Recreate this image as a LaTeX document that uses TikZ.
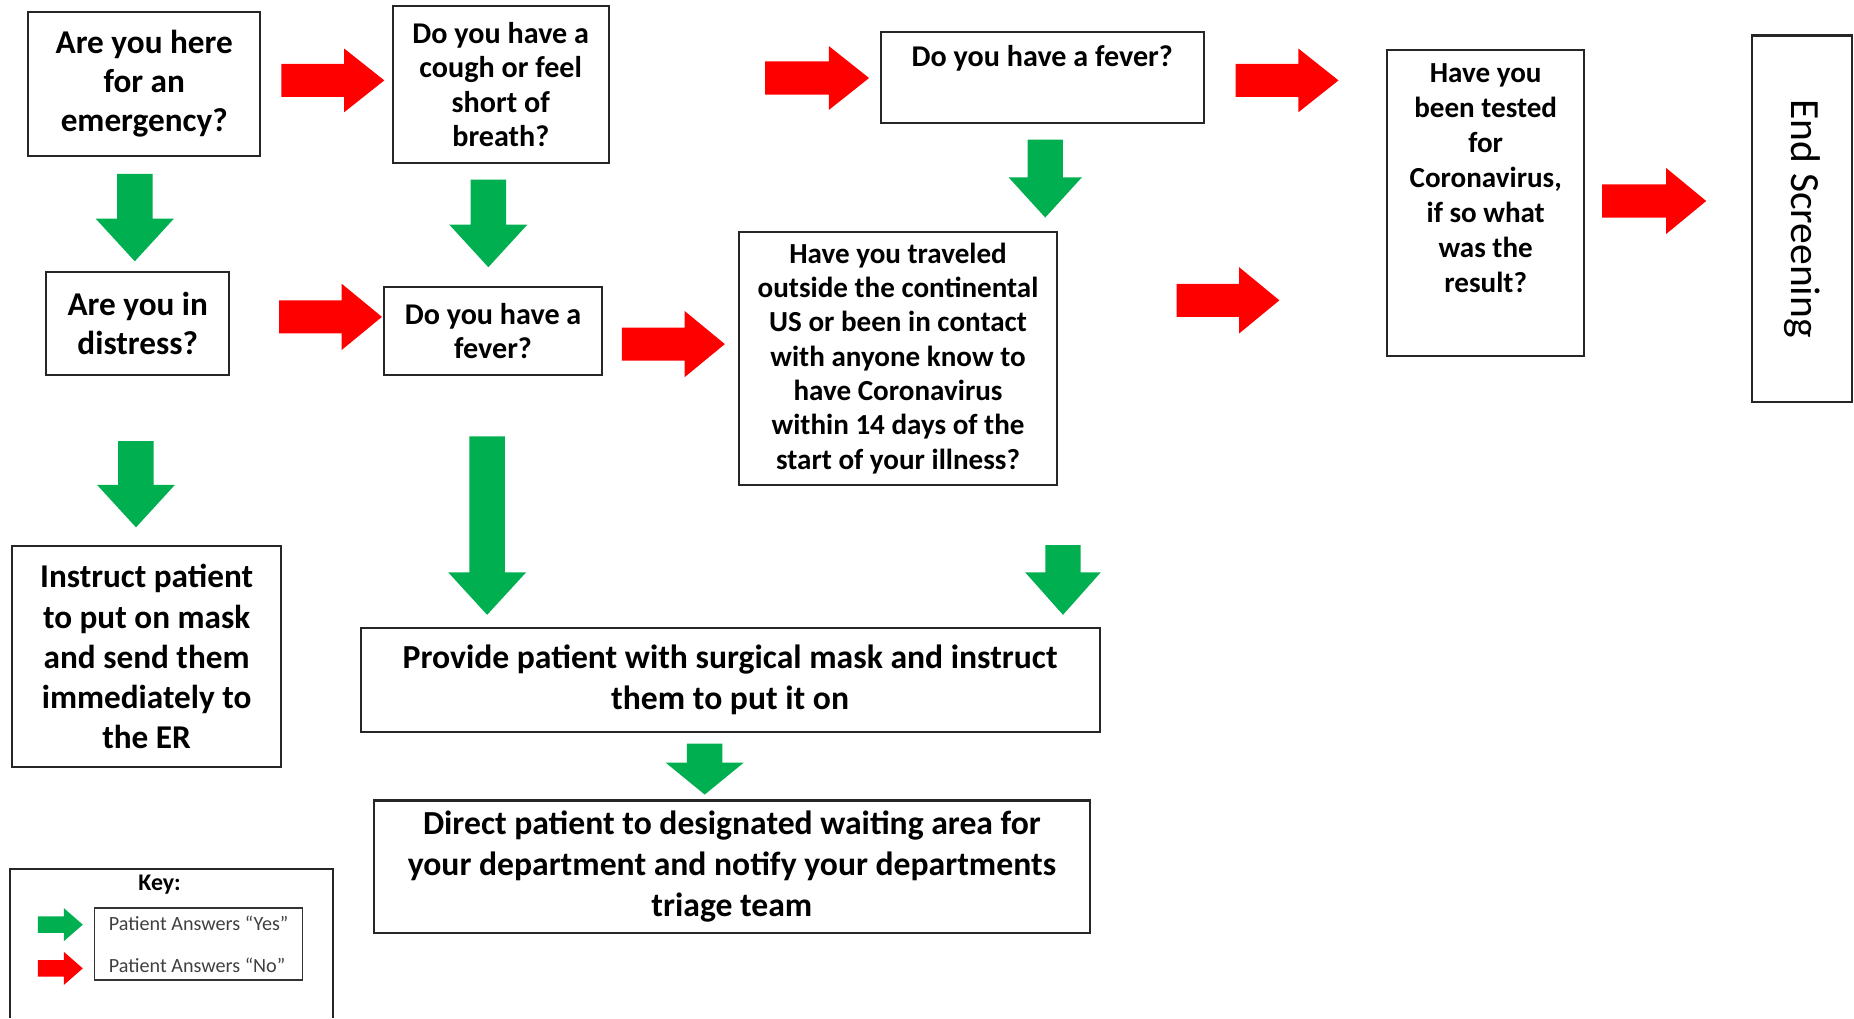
\documentclass[tikz,border=0pt]{standalone}
\usepackage{fontspec}
\setmainfont{Carlito}
\definecolor{arrred}{HTML}{FF0000}
\definecolor{arrgreen}{HTML}{00B050}
\definecolor{keytext}{HTML}{404040}
% horizontal block arrow: colour, x1, x2, yc, head length, half head, half shaft
\newcommand\myHarrow[7]{\fill[#1] (#2,{#4-#7}) -- ({#3-#5},{#4-#7}) -- ({#3-#5},{#4-#6}) -- (#3,#4) -- ({#3-#5},{#4+#6}) -- ({#3-#5},{#4+#7}) -- (#2,{#4+#7}) -- cycle;}
% vertical block arrow: colour, xc, y1, y2, head length, half head, half shaft
\newcommand\myVarrow[7]{\fill[#1] ({#2-#7},#3) -- ({#2+#7},#3) -- ({#2+#7},{#4-#5}) -- ({#2+#6},{#4-#5}) -- (#2,#4) -- ({#2-#6},{#4-#5}) -- ({#2-#7},{#4-#5}) -- cycle;}
\begin{document}
\begin{tikzpicture}[x=0.02cm,y=-0.02cm,
  qbox/.style={draw=black!85, line width=1pt, fill=white, align=center, inner sep=2pt},
  boxline/.style={draw=black!85, line width=1pt}]
\fill[white] (0,0) rectangle (1568,861);
\useasboundingbox (0,0) rectangle (1568,861);

% question boxes
\node[qbox, minimum width=3.92cm, minimum height=2.44cm, font=\fontsize{16}{18.8}\selectfont\bfseries] (emerg) at (122,71) {Are you here\\for an\\emergency?};
\node[qbox, minimum width=3.66cm, minimum height=2.66cm, font=\fontsize{14.5}{16.5}\selectfont\bfseries] (cough) at (423.5,71.5) {Do you have a\\cough or feel\\short of\\breath?};
\node[qbox, minimum width=5.46cm, minimum height=1.54cm, inner sep=0.12cm, font=\fontsize{14.5}{16.5}\selectfont\bfseries] (fevertop) at (881.5,65.5) {\parbox[b][1.30cm][t]{5.2cm}{\centering\vspace*{0.1cm}Do you have a fever?}};
\node[qbox, minimum width=3.34cm, minimum height=5.18cm, inner sep=0.12cm, font=\fontsize{14}{16.8}\selectfont\bfseries] (tested) at (1256.5,171.5) {\parbox[b][4.94cm][t]{3.1cm}{\centering\vspace*{0.12cm}Have you\\been tested\\for\\Coronavirus,\\if so what\\was the\\result?}};
\node[qbox, rotate=-90, minimum width=6.2cm, minimum height=1.68cm, font=\fontsize{20}{24}\selectfont] (endscr) at (1524,185) {End Screening};
\node[qbox, minimum width=3.1cm, minimum height=1.74cm, font=\fontsize{16}{18.8}\selectfont\bfseries] (distress) at (116.5,273.5) {Are you in\\distress?};
\node[qbox, minimum width=3.68cm, minimum height=1.48cm, font=\fontsize{14.5}{16.5}\selectfont\bfseries] (fevermid) at (417,280) {Do you have a\\fever?};
\node[qbox, minimum width=5.38cm, minimum height=4.28cm, font=\fontsize{14}{16.5}\selectfont\bfseries] (travel) at (759.5,303) {Have you traveled\\outside the continental\\US or been in contact\\with anyone know to\\have Coronavirus\\within 14 days of the\\start of your illness?};
\node[qbox, minimum width=4.56cm, minimum height=3.74cm, font=\fontsize{16}{19.4}\selectfont\bfseries] (instruct) at (124,555.5) {Instruct patient\\to put on mask\\and send them\\immediately to\\the ER};
\node[qbox, minimum width=12.5cm, minimum height=1.76cm, font=\fontsize{16.2}{20}\selectfont\bfseries] (provide) at (617.5,575) {Provide patient with surgical mask and instruct\\them to put it on};
\node[qbox, minimum width=12.12cm, minimum height=2.24cm, font=\fontsize{16.2}{19.6}\selectfont\bfseries] (direct) at (619,733) {Direct patient to designated waiting area for\\your department and notify your departments\\triage team};

% key
\node[minimum width=5.44cm, minimum height=2.52cm, inner sep=0pt] (key) at (145,798) {};
\draw[boxline] (key.south west) -- (key.north west) -- (key.north east) -- (key.south east);
\node[font=\fontsize{11.5}{13}\selectfont\bfseries] (keytitle) at (135,748) {Key:};
\node[draw=black!80, line width=0.7pt, minimum width=3.52cm, minimum height=1.22cm, align=left, text=keytext, font=\fontsize{9.7}{20}\selectfont] (keyin) at (168,798.5) {Patient Answers “Yes”\\Patient Answers “No”};
\myHarrow{arrgreen}{32}{70}{782}{16}{14}{7}
\myHarrow{arrred}{32}{70}{819}{16}{14}{7}

% red "No" arrows
\myHarrow{arrred}{238}{325}{68}{34}{27}{14}
\myHarrow{arrred}{647}{735}{66}{34}{27}{14}
\myHarrow{arrred}{1045}{1132}{68}{34}{27}{14}
\myHarrow{arrred}{1355}{1443}{170}{34}{28}{14}
\myHarrow{arrred}{236}{323}{268}{34}{28}{14}
\myHarrow{arrred}{526}{613}{291}{34}{28}{14}
\myHarrow{arrred}{995}{1082}{254}{34}{28}{14}

% green "Yes" arrows
\myVarrow{arrgreen}{114}{147}{221}{36}{33}{15}
\myVarrow{arrgreen}{413}{152}{226}{36}{33}{15}
\myVarrow{arrgreen}{884}{118}{184}{34}{31}{15}
\myVarrow{arrgreen}{115}{373}{446}{36}{33}{15}
\myVarrow{arrgreen}{412}{369}{520}{36}{33}{15}
\myVarrow{arrgreen}{899}{461}{520}{36}{32}{15}
\myVarrow{arrgreen}{596}{629}{672}{27}{33}{15}
\end{tikzpicture}
\end{document}
